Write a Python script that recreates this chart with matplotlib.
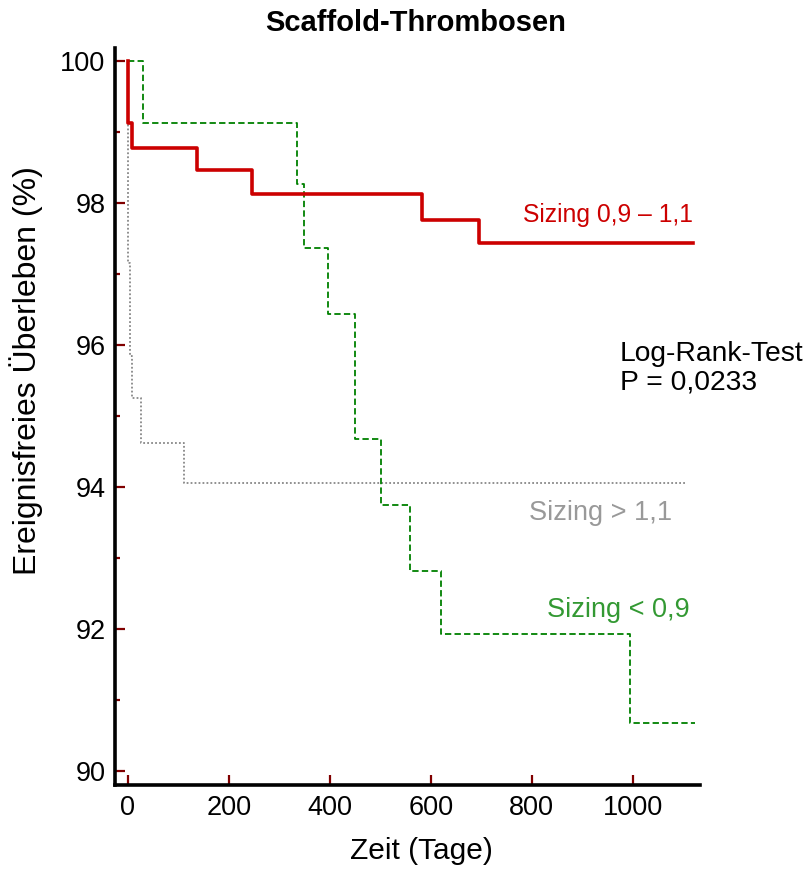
import matplotlib
matplotlib.use("Agg")
import matplotlib.pyplot as plt
from matplotlib.ticker import MultipleLocator

plt.rcParams['font.family'] = ['Liberation Sans', 'DejaVu Sans']

# Kaplan-Meier Stufen (Zeit in Tagen, ereignisfreies Ueberleben in %)
t_mid = [0, 1, 8, 137, 246, 582, 696, 1120]
s_mid = [100, 99.12, 98.77, 98.46, 98.12, 97.76, 97.43, 97.43]

t_low = [0, 30, 336, 349, 396, 450, 502, 559, 621, 995, 1123]
s_low = [100, 99.13, 98.26, 97.36, 96.44, 94.67, 93.75, 92.81, 91.93, 90.68, 90.68]

t_high = [0, 1, 4.5, 9, 26, 111, 1104]
s_high = [100, 97.15, 95.85, 95.25, 94.62, 94.05, 94.05]

fig = plt.figure(figsize=(8.11, 8.72), dpi=100)
ax = fig.add_axes([0.142, 0.0998, 0.721, 0.845])

ax.step(t_high, s_high, where='post', color='#888888', lw=1.3, ls=(0, (1, 1.2)))
ax.step(t_low, s_low, where='post', color='#008000', lw=1.3, ls=(0, (3.5, 1.8)))
ax.step(t_mid, s_mid, where='post', color='#cc0000', lw=2.6)

ax.set_xlim(-25, 1133)
ax.set_ylim(89.8, 100.18)
ax.xaxis.set_major_locator(MultipleLocator(200))
ax.yaxis.set_major_locator(MultipleLocator(2))
ax.yaxis.set_minor_locator(MultipleLocator(1))

for s in ['top', 'right']:
    ax.spines[s].set_visible(False)
for s in ['left', 'bottom']:
    ax.spines[s].set_linewidth(2.6)

ax.tick_params(axis='both', which='both', direction='in', color='#800000', labelsize=19.5)
ax.tick_params(axis='both', which='major', length=7, width=1.6, pad=7)
ax.tick_params(axis='y', which='minor', length=3.5, width=1.6)

ax.set_title('Scaffold-Thrombosen', fontsize=21, fontweight='bold', pad=12, x=0.513)
ax.set_xlabel('Zeit (Tage)', fontsize=21.5, labelpad=12, x=0.523)
ax.set_ylabel('Ereignisfreies Überleben (%)', fontsize=23)
ax.yaxis.set_label_coords(-0.124, 0.563)

ax.text(1120, 97.83, 'Sizing 0,9 – 1,1', color='#cc0000', fontsize=17.8, ha='right', va='center')
ax.text(1078, 93.63, 'Sizing > 1,1', color='#999999', fontsize=19.5, ha='right', va='center')
ax.text(1113, 92.26, 'Sizing < 0,9', color='#339933', fontsize=19.5, ha='right', va='center')
ax.text(975, 95.67, 'Log-Rank-Test\nP = 0,0233', color='black', fontsize=20.3, ha='left', va='center',
        linespacing=1.12)

fig.savefig('out.png', dpi=100)
